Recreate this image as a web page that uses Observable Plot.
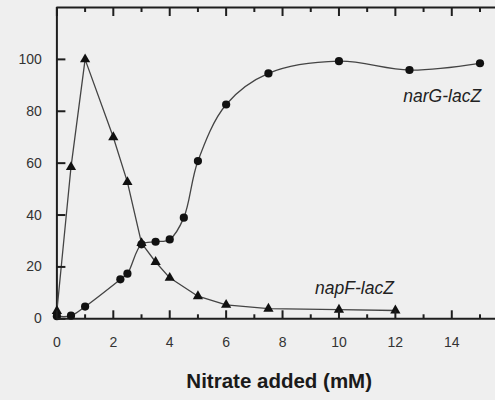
<!DOCTYPE html>
<html>
<head>
<meta charset="utf-8">
<script src="https://cdn.jsdelivr.net/npm/d3@7"></script>
<script src="https://cdn.jsdelivr.net/npm/@observablehq/plot@0.6"></script>
<style>
  html, body { margin: 0; padding: 0; background: #efefef; }
  #chart svg { display: block; }
</style>
</head>
<body>
<div id="chart"></div>
<script>
// narG-lacZ (circles)
const narX = [0, 0.5, 1, 2.25, 2.5, 3, 3.5, 4, 4.5, 5, 6, 7.5, 10, 12.5, 15];
const narY = [1, 1.2, 4.7, 15.2, 17.4, 28.7, 29.7, 30.6, 39, 60.8, 82.6, 94.6, 99.3, 95.9, 98.5];
// napF-lacZ (triangles)
const napX = [0, 0.5, 1, 2, 2.5, 3, 3.5, 4, 5, 6, 7.5, 10, 12];
const napY = [3, 58.5, 100, 70, 52.7, 29.2, 21.9, 15.8, 8.7, 5.4, 3.9, 3.5, 3.2];
// ticks
const xMajor = [0, 2, 4, 6, 8, 10, 12, 14];
const xMinor = [1, 3, 5, 7, 9, 11, 13, 15];
const yTicks = [0, 20, 40, 60, 80, 100];
// labels
const seriesLabels = ["narG-lacZ", "napF-lacZ"];
const labelX = [13.66, 10.55];
const labelY = [85.6, 11.7];
const xTitle = "Nitrate added (mM)";

const nar = narX.map((x, i) => ({x, y: narY[i]}));
const nap = napX.map((x, i) => ({x, y: napY[i]}));
const labels = seriesLabels.map((t, i) => ({t, x: labelX[i], y: labelY[i]}));

const W = 495, H = 400, mL = 56.4, mR = 0, mT = 7, mB = 81.7;
const fw = W - mL - mR, fh = H - mT - mB;
const ink = "#1e1e1e";
const chart = Plot.plot({
  width: W,
  height: H,
  marginLeft: mL,
  marginRight: mR,
  marginTop: mT,
  marginBottom: mB,
  style: {background: "#efefef", fontFamily: "'Liberation Sans', Arial, sans-serif", color: ink},
  x: {domain: [0, 15.55], axis: null},
  y: {domain: [0, 120], axis: null},
  marks: [
    // frame lines
    Plot.ruleY([0], {stroke: ink, strokeWidth: 2}),
    Plot.ruleY([120], {stroke: ink, strokeWidth: 2}),
    Plot.ruleX([0], {stroke: ink, strokeWidth: 2}),
    // tick labels
    Plot.axisX({ticks: xMajor, tickSize: 0, tickPadding: 18, fontSize: 14, fill: "#333", label: null}),
    Plot.axisY({ticks: yTicks, tickSize: 0, tickPadding: 15, fontSize: 14, fill: "#333", label: null}),
    // series
    Plot.line(nap, {x: "x", y: "y", stroke: "#444", strokeWidth: 1.3}),
    Plot.line(nar, {x: "x", y: "y", stroke: "#444", strokeWidth: 1.3, curve: "catmull-rom"}),
    Plot.dot(nap, {x: "x", y: "y", symbol: "triangle", r: 3.8, fill: "#111", stroke: "none"}),
    Plot.dot(nar, {x: "x", y: "y", symbol: "circle", r: 4.1, fill: "#111", stroke: "none"}),
    // series labels
    Plot.text(labels, {x: "x", y: "y", text: "t", fontSize: 17.5, fontStyle: "italic", fill: "#222", textAnchor: "middle", lineAnchor: "middle"}),
    // x title
    Plot.text([xTitle], {frameAnchor: "bottom", dx: 3, dy: 63, fontSize: 20.5, fontWeight: "bold", fill: "#1a1a1a", textAnchor: "middle", lineAnchor: "middle"}),
    // inward tick marks, drawn last
    Plot.ruleX(xMajor, {insetTop: fh - 8, stroke: ink, strokeWidth: 2}),
    Plot.ruleX(xMinor, {insetTop: fh - 4, stroke: ink, strokeWidth: 2}),
    Plot.ruleX(xMajor, {insetBottom: fh - 9, stroke: ink, strokeWidth: 2}),
    Plot.ruleX(xMinor, {insetBottom: fh - 5, stroke: ink, strokeWidth: 2}),
    Plot.ruleY(yTicks, {insetRight: fw - 9, stroke: ink, strokeWidth: 2})
  ]
});
document.getElementById("chart").appendChild(chart);
</script>
</body>
</html>
